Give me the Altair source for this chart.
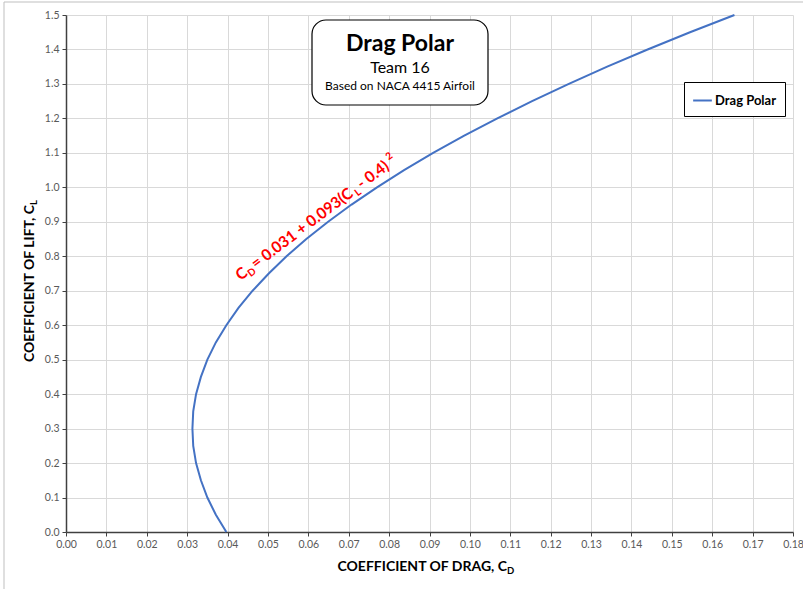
import altair as alt
import pandas as pd

# Values
cl = [0.00, 0.05, 0.10, 0.15, 0.20, 0.25, 0.30, 0.35, 0.40, 0.45, 0.50, 0.55, 0.60,
      0.65, 0.70, 0.75, 0.80, 0.85, 0.90, 0.95, 1.00, 1.05, 1.10, 1.15, 1.20, 1.25,
      1.30, 1.35, 1.40, 1.45, 1.50]
cd = [0.0397, 0.0371, 0.0350, 0.0334, 0.0322, 0.0315, 0.0313, 0.0315, 0.0322, 0.0334,
      0.0350, 0.0371, 0.0397, 0.0427, 0.0462, 0.0502, 0.0546, 0.0595, 0.0649, 0.0707,
      0.0770, 0.0837, 0.0909, 0.0986, 0.1068, 0.1154, 0.1245, 0.1340, 0.1440, 0.1545,
      0.1655]
series_name = "Drag Polar"
x_ticks = [round(i * 0.01, 2) for i in range(19)]
y_ticks = [round(i * 0.1, 1) for i in range(16)]

FONT = "Lato"
W, H = 727, 517
PL, PT = 66, 15

df = pd.DataFrame({"CD": cd, "CL": cl, "series": [series_name] * len(cl)})
one = pd.DataFrame({"a": [0]})

xs = alt.Scale(domain=[0, 0.18], nice=False)
ys = alt.Scale(domain=[0, 1.5], nice=False)

axis_style = dict(grid=True, gridColor="#d9d9d9", gridWidth=1, domainColor="#404040",
                  domainWidth=1.5, tickColor="#404040", tickSize=4,
                  labelColor="#595959", labelFontSize=10.5, labelFont=FONT,
                  labelPadding=3, labelFlush=False, labelOverlap=False)
x_axis = alt.Axis(values=x_ticks, format=".2f", title=None, **axis_style)
y_axis = alt.Axis(values=y_ticks, format=".1f", title=None, **axis_style)

line = alt.Chart(df).mark_line(strokeWidth=2, clip=False).encode(
    x=alt.X("CD:Q", scale=xs, axis=x_axis),
    y=alt.Y("CL:Q", scale=ys, axis=y_axis),
    order="CL:Q",
    color=alt.Color("series:N", scale=alt.Scale(range=["#4472C4"]),
                    legend=alt.Legend(orient="none", legendX=618, legendY=67, title=None,
                                      strokeColor="black", fillColor="white", padding=8,
                                      symbolType="stroke", symbolStrokeWidth=2,
                                      symbolSize=350, labelFont=FONT, labelFontSize=13,
                                      labelFontWeight="bold", labelColor="black",
                                      labelOffset=2)),
)

# Outer chart border
border = alt.Chart(one).mark_rect(fill=None, stroke="#bfbfbf", strokeWidth=1, clip=False).encode(
    x=alt.value(4 - PL), x2=alt.value(820), y=alt.value(2 - PT), y2=alt.value(600))

# Title box
tbox = alt.Chart(one).mark_rect(fill="white", stroke="black", strokeWidth=1.2,
                                cornerRadius=14).encode(
    x=alt.value(312 - PL), x2=alt.value(488 - PL), y=alt.value(20 - PT), y2=alt.value(105 - PT))
t1 = alt.Chart(one).mark_text(text="Drag Polar", font=FONT, fontSize=23, fontWeight="bold",
                              color="black", baseline="middle", align="center").encode(
    x=alt.value(400 - PL), y=alt.value(44 - PT))
t2 = alt.Chart(one).mark_text(text="Team 16", font=FONT, fontSize=16, color="black",
                              baseline="middle", align="center").encode(
    x=alt.value(400 - PL), y=alt.value(68 - PT))
t3 = alt.Chart(one).mark_text(text="Based on NACA 4415 Airfoil", font=FONT, fontSize=12,
                              color="black", baseline="middle", align="center").encode(
    x=alt.value(400 - PL), y=alt.value(86 - PT))

# Axis titles with subscripts
xt = alt.Chart(one).mark_text(text="COEFFICIENT OF DRAG, C", font=FONT, fontSize=14,
                              fontWeight="bold", color="black", baseline="middle",
                              align="right", clip=False).encode(
    x=alt.value(507 - PL), y=alt.value(567 - PT))
xt_sub = alt.Chart(one).mark_text(text="D", font=FONT, fontSize=9.5, fontWeight="bold",
                                  color="black", baseline="middle", align="left",
                                  dy=4, clip=False).encode(
    x=alt.value(507 - PL), y=alt.value(567 - PT))
yt = alt.Chart(one).mark_text(text="COEFFICIENT OF LIFT, C", font=FONT, fontSize=14,
                              fontWeight="bold", color="black", baseline="middle",
                              align="right", angle=270, clip=False).encode(
    x=alt.value(30 - PL), y=alt.value(205 - PT))
yt_sub = alt.Chart(one).mark_text(text="L", font=FONT, fontSize=9.5, fontWeight="bold",
                                  color="black", baseline="middle", align="left",
                                  angle=270, dy=4, clip=False).encode(
    x=alt.value(30 - PL), y=alt.value(205 - PT))

# Equation annotation (rotated, with sub/superscripts)
eq_x, eq_y = 0.0432, 0.728
pieces = [("C", 15.5, 0, 0), ("D", 10, 10.5, 3), (" = 0.031 + 0.093(C", 15.5, 19.5, 0),
          ("L", 10, 144.5, 3), (" - 0.4)", 15.5, 152, 0), ("2", 10, 191, -7)]
eq_df = pd.DataFrame({"CD": [eq_x], "CL": [eq_y]})
eq_layers = []
for txt, fs, dx, dy in pieces:
    eq_layers.append(
        alt.Chart(eq_df).mark_text(text=txt, font=FONT, fontSize=fs, fontWeight="bold",
                                   color="#ff0000", align="left", baseline="alphabetic",
                                   angle=323, dx=dx, dy=dy).encode(
            x=alt.X("CD:Q", scale=xs, axis=x_axis), y=alt.Y("CL:Q", scale=ys, axis=y_axis)))

chart = alt.layer(border, line, *eq_layers, tbox, t1, t2, t3, xt, xt_sub, yt, yt_sub).properties(
    width=W, height=H,
    padding={"left": PL, "top": PT, "right": 803 - PL - W, "bottom": 589 - PT - H},
    autosize=alt.AutoSizeParams(type="none"),
    background="white",
).configure_view(stroke=None)

chart.save("out.html", embed_options={"renderer": "svg", "actions": False})
